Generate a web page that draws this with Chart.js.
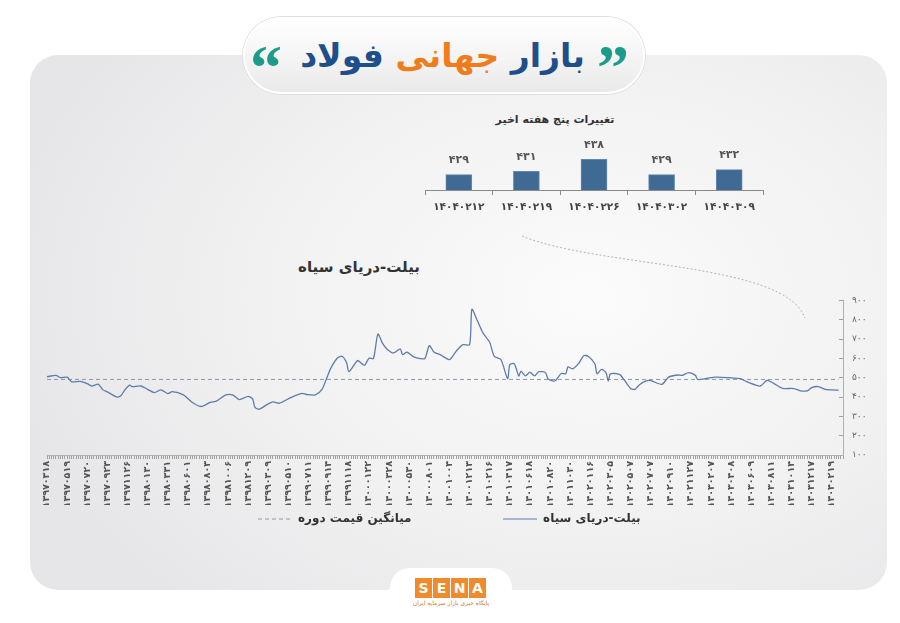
<!DOCTYPE html>
<html lang="fa">
<head>
<meta charset="utf-8">
<title>بازار جهانی فولاد</title>
<script src="https://cdn.jsdelivr.net/npm/chart.js@4.4.1/dist/chart.umd.min.js"></script>
<style>
  html, body { margin: 0; padding: 0; background: #fff; }
  #page { position: relative; width: 900px; height: 623px; overflow: hidden; font-family: 'DejaVu Sans', sans-serif; }
  #card {
    position: absolute; left: 30px; top: 55px; width: 857px; height: 535px; border-radius: 28px;
    background: radial-gradient(ellipse 70% 80% at 65% 45%, #fbfbfb 0%, #f1f1f2 55%, #e6e6e8 100%);
  }
  #pill {
    position: absolute; left: 243px; top: 17px; width: 398px; height: 73px; border-radius: 40px;
    background: linear-gradient(to bottom, #ffffff 0%, #f3f3f3 60%, #e9e9e9 100%);
    border: 2px solid #fff; box-shadow: 0 0 0 1px #dedede;
  }
  #headline {
    position: absolute; left: 290px; width: 305px; top: 36px; text-align: center;
    font-size: 33px; font-weight: bold; line-height: 40px; white-space: nowrap;
  }
  .navy { color: #1f4f8a; }
  .orange { color: #f07c1c; }
  .quote { position: absolute; top: 36px; font-family: 'Liberation Serif', serif; font-weight: bold; font-size: 64px; line-height: 1; color: #1b9c8b; }
  #sub-title { position: absolute; left: 480px; width: 150px; top: 113px; text-align: center; font-size: 11px; font-weight: bold; color: #333; }
  #main-title { position: absolute; left: 250px; width: 170px; top: 258px; text-align: right; font-size: 15px; font-weight: bold; color: #333; }
  canvas { position: absolute; }
  #main-chart { left: 30px; top: 282px; }
  #week-chart { left: 410px; top: 130px; }
  #logo-base { position: absolute; left: 390px; top: 568px; width: 122px; height: 70px; border-radius: 20px; background: #fff; }
  .sena { position: absolute; top: 578px; width: 17px; height: 20px; background: #f08a2a; color: #fff; font-weight: bold; font-size: 14px; line-height: 20px; text-align: center; }
  #tagline { position: absolute; left: 400px; width: 102px; top: 599px; text-align: center; font-size: 6px; color: #c9793a; }
</style>
</head>
<body>
<div id="page">
  <div id="card"></div>
  <div id="pill"></div>
  <div class="quote" style="left:597px">”</div>
  <div class="quote" style="left:250px">“</div>
  <div id="headline" dir="rtl"><span class="navy">بازار</span> <span class="orange">جهانی</span> <span class="navy">فولاد</span></div>

  <svg width="900" height="623" style="position:absolute;left:0;top:0">
    <path d="M522 236 C 600 268, 785 262, 805 318" fill="none" stroke="#b4b4b4" stroke-width="1" stroke-dasharray="2 2"/>
  </svg>

  <div id="sub-title" dir="rtl">تغییرات پنج هفته اخیر</div>
  <canvas id="week-chart" width="370" height="90"></canvas>

  <div id="main-title" dir="rtl">بیلت-دریای سیاه</div>
  <canvas id="main-chart" width="855" height="257"></canvas>

  <div id="logo-base"></div>
  <div class="sena" style="left:415px">S</div>
  <div class="sena" style="left:433px">E</div>
  <div class="sena" style="left:451px">N</div>
  <div class="sena" style="left:469px">A</div>
  <div id="tagline" dir="rtl">پایگاه خبری بازار سرمایه ایران</div>
</div>

<script>
Chart.defaults.font.family = "'DejaVu Sans', sans-serif";

// Persian digits for every label
const fa = s => String(s).replace(/\d/g, d => '۰۱۲۳۴۵۶۷۸۹'[d]);

// Billet - Black Sea, weekly (week number since 1397/03/18)
const seriesName = 'بیلت-دریای سیاه';
const averageName = 'میانگین قیمت دوره';

const weeks = [0, 4, 6, 9, 11, 15, 18, 20, 23, 25, 27, 31, 33, 35, 37, 38, 42, 45, 48, 51,
  54, 56, 61, 65, 69, 73, 76, 80, 83, 86, 90, 92, 93, 95, 98, 101, 104, 109, 114, 116,
  120, 123, 125, 127, 130, 132, 134, 135, 138, 139, 142, 144, 146, 148, 150, 152, 155, 158, 159, 161,
  164, 167, 169, 171, 173, 176, 180, 183, 186, 189, 190, 192, 195, 198, 200, 203, 206, 207, 209, 211,
  212, 214, 216, 218, 220, 223, 224, 227, 230, 232, 233, 235, 238, 240, 242, 245, 246, 248, 250, 251,
  252, 256, 258, 261, 263, 265, 268, 270, 275, 278, 282, 284, 287, 290, 291, 295, 299, 305, 310, 314,
  319, 322, 325, 329, 334, 337, 340, 342, 345, 348, 351, 354];

const prices = [505, 512, 500, 503, 479, 481, 469, 457, 466, 437, 427, 401, 406, 440, 462, 454, 457, 440, 423, 437,
  418, 428, 411, 372, 351, 372, 380, 411, 411, 387, 403, 389, 346, 337, 358, 375, 368, 397, 419, 413,
  411, 440, 495, 551, 603, 611, 577, 531, 577, 589, 565, 601, 599, 726, 679, 649, 628, 649, 620, 632,
  608, 599, 599, 666, 633, 618, 594, 637, 671, 671, 854, 808, 731, 683, 611, 594, 495, 568, 572, 509,
  534, 509, 529, 509, 531, 526, 495, 483, 522, 520, 556, 546, 577, 614, 611, 572, 520, 543, 526, 483,
  520, 517, 491, 444, 440, 464, 483, 485, 466, 503, 514, 512, 526, 512, 491, 496, 503, 500, 495, 474,
  457, 486, 471, 445, 444, 432, 432, 449, 454, 440, 437, 435];

const periodAverage = 491;

// one date label every 9 weeks
const tickEvery = 9;
const tickDates = ['13970318', '13970519', '13970720', '13970923', '13971126', '13980130', '13980331', '13980601',
  '13980803', '13981006', '13981209', '13990309', '13990510', '13990711', '13990914', '13991118',
  '14000122', '14000328', '14000530', '14000801', '14001004', '14001213', '14010216', '14010417',
  '14010618', '14010820', '14011030', '14020116', '14020305', '14020507', '14020707', '14020910',
  '14021127', '14030207', '14030408', '14030609', '14030811', '14031014', '14031217', '14040219'];

// last five weeks
const recentDates = ['14040212', '14040219', '14040226', '14040302', '14040309'];
const recentValues = [429, 431, 438, 429, 432];

// Main chart

const mainChart = new Chart(document.getElementById('main-chart'), {
  type: 'line',
  data: {
    datasets: [{
      label: seriesName,
      data: weeks.map((w, i) => ({ x: w, y: prices[i] })),
      borderColor: '#5d7cab',
      borderWidth: 1.3,
      pointRadius: 0,
      tension: 0.25,
      fill: false,
    }, {
      label: averageName,
      data: [{ x: weeks[0], y: periodAverage }, { x: weeks[weeks.length - 1], y: periodAverage }],
      borderColor: '#8a9ab3',
      borderWidth: 1,
      borderDash: [4, 3],
      pointRadius: 0,
      fill: false,
    }],
  },
  options: {
    responsive: false,
    animation: false,
    layout: { padding: { left: 17, top: 15, right: 0, bottom: 4 } },
    plugins: {
      tooltip: { enabled: false },
      legend: {
        position: 'bottom',
        reverse: true,
        labels: {
          usePointStyle: true,
          pointStyle: 'line',
          pointStyleWidth: 34,
          padding: 8,
          color: '#333',
          font: { size: 12, weight: 'bold' },
          generateLabels(chart) {
            const items = Chart.defaults.plugins.legend.labels.generateLabels(chart);
            items.forEach(it => {
              const ds = chart.data.datasets[it.datasetIndex];
              it.lineDash = ds.borderDash || [];
              it.lineWidth = 1;
              // wide gap between the two items, like the original
              it.text = it.text + '\u00A0'.repeat(it.datasetIndex === 1 ? 20 : 8);
            });
            return items;
          },
        },
      },
    },
    scales: {
      x: {
        type: 'linear',
        min: 0,
        max: 356,
        afterFit(scale) { scale.height = 50; },
        border: { color: '#b0b0b0' },
        grid: { drawOnChartArea: false, tickLength: 4, color: '#a0a0a0' },
        ticks: {
          stepSize: 1,
          autoSkip: false,
          maxTicksLimit: 1000,
          minRotation: 90,
          maxRotation: 90,
          padding: 2,
          color: '#555',
          font: { size: 9.5, weight: 'bold' },
          callback(v) {
            const d = tickDates[v / tickEvery];
            return v % tickEvery === 0 && d ? fa(d) : '';
          },
        },
      },
      y: {
        position: 'right',
        min: 100,
        max: 900,
        afterFit(scale) { scale.width = 42; },
        border: { color: '#b0b0b0' },
        grid: { drawOnChartArea: false, tickLength: -4, color: '#a0a0a0' },
        ticks: { stepSize: 100, padding: 13, color: '#666', font: { size: 9 }, callback: v => fa(v) },
      },
    },
  },
});

// Last five weeks bar chart

const valueLabels = {
  id: 'valueLabels',
  afterDatasetsDraw(chart) {
    const { ctx } = chart;
    const meta = chart.getDatasetMeta(0);
    ctx.save();
    ctx.font = "bold 11px 'DejaVu Sans', sans-serif";
    ctx.fillStyle = '#555';
    ctx.textAlign = 'center';
    ctx.textBaseline = 'bottom';
    meta.data.forEach((bar, i) => {
      ctx.fillText(fa(chart.data.datasets[0].data[i]), bar.x, bar.y - 9);
    });
    ctx.restore();
  },
};

new Chart(document.getElementById('week-chart'), {
  type: 'bar',
  data: {
    labels: recentDates.map(fa),
    datasets: [{
      data: recentValues,
      backgroundColor: '#3f6a93',
      borderColor: '#6089b0',
      borderWidth: 1,
      barThickness: 26,
    }],
  },
  options: {
    responsive: false,
    animation: false,
    layout: { padding: { left: 15, right: 17, top: 9, bottom: 0 } },
    plugins: { legend: { display: false }, tooltip: { enabled: false } },
    scales: {
      x: {
        afterFit(scale) { scale.height = 30; },
        border: { color: '#8a8a8a' },
        grid: { drawOnChartArea: false, tickLength: 5, color: '#8a8a8a' },
        ticks: { padding: 6, color: '#444', font: { size: 10.5, weight: 'bold' } },
      },
      y: { display: false, min: 420, max: 450 },
    },
  },
  plugins: [valueLabels],
});
</script>
</body>
</html>
